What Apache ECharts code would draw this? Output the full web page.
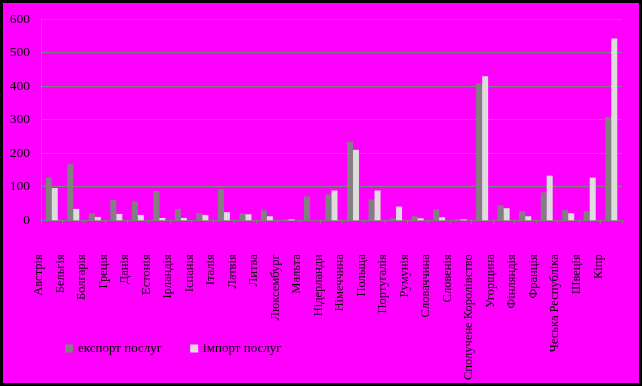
<!DOCTYPE html>
<html><head><meta charset="utf-8">
<script src="https://cdn.jsdelivr.net/npm/echarts@6/dist/echarts.min.js"></script>
<style>
html,body{margin:0;padding:0;background:#000;}
#c{position:absolute;left:3px;top:3px;width:636px;height:380px;background:#ff00ff;}
</style></head>
<body><div id="c"></div>
<script>
const categories = ["Австрія","Бельгія","Болгарія","Греція","Данія","Естонія","Ірландія","Іспанія","Італія","Латвія","Литва","Люксембург","Мальта","Нідерланди","Німеччина","Польща","Португалія","Румунія","Словаччина","Словенія","Сполучене Королівство","Угорщина","Фінляндія","Франція","Чеська Республіка","Швеція","Кіпр"];
const exportValues = [127,167,21,60,56,87,34,21,92,21,30,3,71,77,234,62,6,12,33,3,408,44,27,83,30,27,308];
const importValues = [96,34,10,19,16,7,7,16,24,18,12,3,0,89,210,89,41,6,9,3,429,36,12,133,21,127,542];
const seriesNames = ["експорт послуг","імпорт послуг"];
const yTicks = {min:0,max:600,interval:100};

const chart = echarts.init(document.getElementById('c'), null, {renderer:'canvas'});
const font = '"Liberation Serif","Times New Roman",serif';
chart.setOption({
  backgroundColor:'#ff00ff',
  animation:false,
  grid:{left:38,right:17,top:16,bottom:161},
  legend:{
    left:62, top:339, padding:0, itemWidth:8, itemHeight:8, itemGap:28,
    icon:'rect',
    textStyle:{fontFamily:font,fontSize:13,color:'#000'},
    data:seriesNames
  },
  xAxis:{
    type:'category', data:categories,
    axisLine:{lineStyle:{color:'#808080',width:1}},
    axisTick:{show:true,length:4,lineStyle:{color:'#808080'}},
    axisLabel:{rotate:90,interval:0,margin:34,fontFamily:font,fontSize:12.5,color:'#000',verticalAlign:'bottom',lineHeight:26}
  },
  yAxis:{
    type:'value', min:yTicks.min, max:yTicks.max, interval:yTicks.interval,
    axisLine:{show:true,lineStyle:{color:'#808080'}},
    axisTick:{show:false},
    splitLine:{lineStyle:{color:'#808080',width:1}},
    axisLabel:{margin:11,fontFamily:font,fontSize:13.5,color:'#000'}
  },
  series:[
    {name:seriesNames[0],type:'bar',data:exportValues,barWidth:6,barGap:'0%',itemStyle:{color:'#808080'}},
    {name:seriesNames[1],type:'bar',data:importValues,barWidth:6,barGap:'0%',itemStyle:{color:'#dddddd'}}
  ]
});
</script></body></html>
